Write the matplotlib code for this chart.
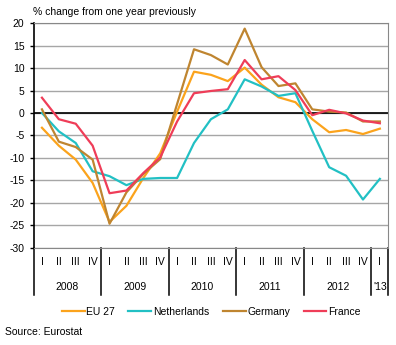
import matplotlib.pyplot as plt
from matplotlib.lines import Line2D

plt.rcParams['font.family'] = ['Liberation Sans', 'DejaVu Sans']
plt.rcParams['axes.unicode_minus'] = False

# quarterly data, 2008 Q1 .. 2013 Q1
eu27 = [-3.3, -7.3, -10.4, -15.6, -24.3, -20.7, -14.5, -9.0,
        0.3, 9.2, 8.5, 7.1, 10.1, 6.3, 3.5, 2.4,
        -1.4, -4.3, -3.8, -4.7, -3.5]
netherlands = [0.0, -4.1, -6.7, -13.0, -14.1, -16.1, -14.7, -14.5,
               -14.5, -6.7, -1.4, 0.8, 7.5, 5.9, 3.8, 4.4,
               -4.0, -12.1, -14.0, -19.3, -14.7]
germany = [0.8, -6.4, -7.6, -10.4, -24.7, -17.7, -13.6, -10.3,
           2.0, 14.2, 12.9, 10.8, 18.8, 10.2, 6.0, 6.6,
           0.8, 0.3, 0.1, -1.9, -1.9]
france = [3.4, -1.4, -2.4, -7.3, -17.9, -17.3, -13.4, -9.9,
          -1.9, 4.4, 4.9, 5.3, 11.8, 7.5, 8.2, 5.1,
          -0.5, 0.7, -0.1, -1.7, -2.3]

quarters = ['I', 'II', 'III', 'IV'] * 5 + ['I']
years = ['2008', '2009', '2010', '2011', '2012', "'13"]
year_starts = [0, 4, 8, 12, 16, 20, 21]

series = [('EU 27', eu27, '#fba31c'),
          ('Netherlands', netherlands, '#22c0c4'),
          ('Germany', germany, '#bf8530'),
          ('France', france, '#ef3d58')]

fig = plt.figure(figsize=(3.96, 3.45), dpi=100)
ax = fig.add_axes([0.0846, 0.2826, 0.896, 0.65])

xs = [i + 0.5 for i in range(len(quarters))]
for name, vals, col in series:
    ax.plot(xs, vals, color=col, lw=1.6, label=name, zorder=3)

ax.set_xlim(0, len(quarters))
ax.set_ylim(-30, 20)
ax.set_yticks(range(-30, 21, 5))
ax.set_xticks([])
ax.yaxis.grid(True, color='#a6a6a6', lw=1)
ax.set_axisbelow(True)
ax.axhline(0, color='black', lw=1.2, zorder=2)
ax.tick_params(axis='y', length=3, width=1, pad=3.5, labelsize=7.5, direction='out')

for side in ['top', 'right', 'bottom']:
    ax.spines[side].set_color('#888888')
ax.spines['left'].set_color('black')
ax.spines['left'].set_linewidth(1.2)

# category axis below the plot
trans = ax.get_xaxis_transform()
for s in year_starts:
    ax.add_line(Line2D([s, s], [0, -0.21], transform=trans, color='black',
                       lw=1.1, clip_on=False))
for x, q in zip(xs, quarters):
    ax.text(x, -0.065, q, transform=trans, ha='center', va='center', fontsize=7.5)
for i, y in enumerate(years):
    mid = (year_starts[i] + year_starts[i + 1]) / 2
    ax.text(mid, -0.175, y, transform=trans, ha='center', va='center', fontsize=7.5)

fig.text(0.083, 0.965, '% change from one year previously', ha='left', va='center',
         fontsize=7.5)
fig.text(0.013, 0.038, 'Source: Eurostat', ha='left', va='center', fontsize=7.5)

fig.legend(loc='center', bbox_to_anchor=(0.533, 0.0957), ncol=4, frameon=False,
           fontsize=7.5, handlelength=2.2, handletextpad=0.15, columnspacing=1.3)

fig.savefig('out.png', dpi=100)
